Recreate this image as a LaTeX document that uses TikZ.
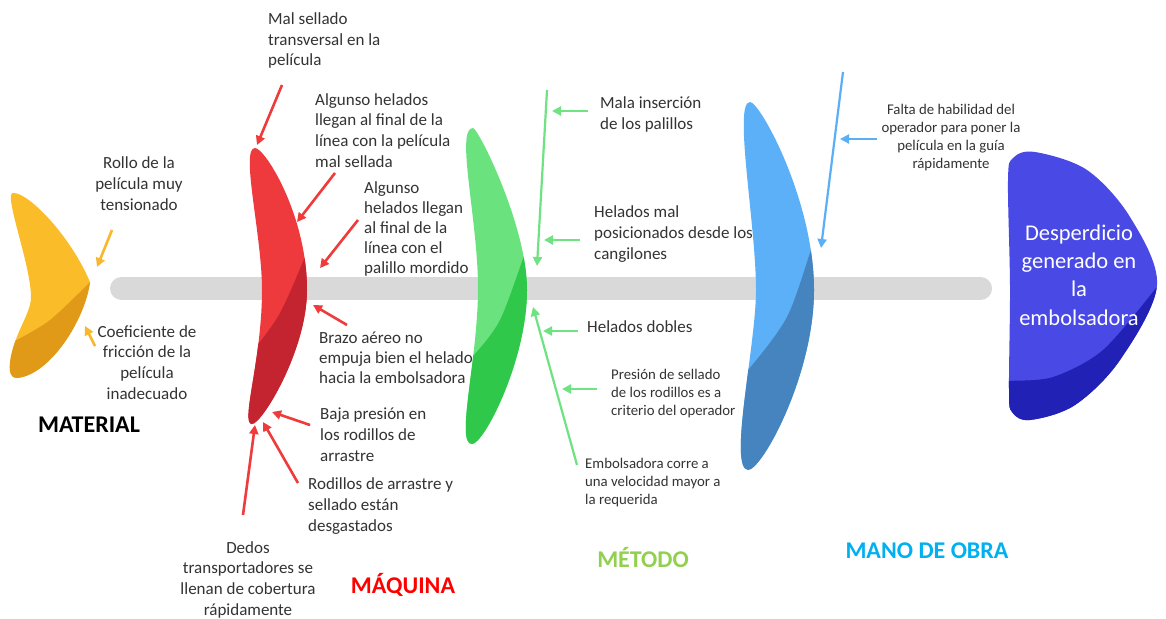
\documentclass[tikz,border=0pt]{standalone}
\usepackage{fontspec}
\setmainfont{Carlito}
\usetikzlibrary{arrows.meta}
\definecolor{txt}{HTML}{333333}
\definecolor{barc}{HTML}{D9D9D9}
\definecolor{yl}{HTML}{FBBC2A}\definecolor{yd}{HTML}{E19A17}
\definecolor{rl}{HTML}{EE3A3C}\definecolor{rd}{HTML}{C3242F}
\definecolor{gl}{HTML}{6AE37E}\definecolor{gd}{HTML}{2FC84A}
\definecolor{bl}{HTML}{5CB0F8}\definecolor{bd}{HTML}{4584BE}
\definecolor{hl}{HTML}{4949E6}\definecolor{hd}{HTML}{2121B6}
\definecolor{ra}{HTML}{EF3B3B}\definecolor{ya}{HTML}{F9B72D}
\definecolor{ga}{HTML}{6FE282}\definecolor{ba}{HTML}{5AAFF7}
\definecolor{tmet}{HTML}{92D050}\definecolor{tmano}{HTML}{00B0F0}
\begin{document}
\begin{tikzpicture}[x=1pt,y=-1pt,
  lbl/.style={text=txt, inner sep=0pt, font=\fontsize{17}{20.6}\selectfont},
  lblsm/.style={text=txt, inner sep=0pt, font=\fontsize{14.8}{18}\selectfont},
  ttl/.style={inner sep=0pt, anchor=base, font=\fontsize{24}{28}\selectfont\bfseries},
  arr/.style={line width=2.6pt, -{Triangle[length=9pt,width=9pt]}},
  arrthin/.style={line width=2.2pt, -{Triangle[length=9pt,width=9pt]}}]
\useasboundingbox (0,0) rectangle (1166,618);
\fill[white] (0,0) rectangle (1166,618);
% spine
\coordinate (sp1) at (121.5,288.5);
\coordinate (sp2) at (980.5,288.5);
\draw[barc, line width=23pt, line cap=round] (sp1) -- (sp2);
% shapes
\def\shpY{(13,193) .. controls (28,192) and (70,235) .. (90,282)
  .. controls (85,320) and (50,375) .. (17,378)
  .. controls (9,378) and (8,368) .. (12,352)
  .. controls (18,328) and (31,312) .. (31,297)
  .. controls (31,265) and (3,193) .. (13,193) -- cycle}
\def\shpR{(255,148) .. controls (265,148) and (307,215) .. (307,290)
  .. controls (307,350) and (262,424) .. (252,424)
  .. controls (240,424) and (262,360) .. (262,290)
  .. controls (262,235) and (240,148) .. (255,148) -- cycle}
\def\shpG{(473,128) .. controls (478,128) and (527,225) .. (527,290)
  .. controls (527,360) and (484,444) .. (472,444)
  .. controls (455,444) and (478,360) .. (478,288)
  .. controls (478,220) and (455,128) .. (473,128) -- cycle}
\def\shpB{(750,102) .. controls (760,102) and (814,200) .. (814,290)
  .. controls (814,375) and (762,470) .. (748,470)
  .. controls (728,468) and (756,345) .. (756,290)
  .. controls (756,225) and (733,102) .. (750,102) -- cycle}
\def\shpH{plot[smooth cycle, tension=0.55] coordinates {(1035,152) (1087,170) (1130,217) (1157,285) (1120,360) (1075,405) (1030,420) (1012,412) (1009,390) (1010,287) (1008,180) (1013,158)}}
\fill[yl] \shpY;
\begin{scope}\clip \shpY;
\fill[yd] plot[smooth] coordinates {(0,347) (13,342) (50,320) (90,282) (100,270)} -- (102,400) -- (0,400) -- cycle;
\end{scope}
\fill[rl] \shpR;
\begin{scope}\clip \shpR;
\fill[rd] plot[smooth] coordinates {(238,358) (253,350) (280,313) (305,257) (312,240)} -- (320,240) -- (320,440) -- (238,440) -- cycle;
\end{scope}
\fill[gl] \shpG;
\begin{scope}\clip \shpG;
\fill[gd] plot[smooth] coordinates {(458,364) (472,357) (500,320) (525,253) (532,235)} -- (540,235) -- (540,460) -- (458,460) -- cycle;
\end{scope}
\fill[bl] \shpB;
\begin{scope}\clip \shpB;
\fill[bd] plot[smooth] coordinates {(733,380) (748,370) (787,317) (812,247) (820,228)} -- (830,228) -- (830,480) -- (733,480) -- cycle;
\end{scope}
\fill[hl] \shpH;
\begin{scope}\clip \shpH;
\fill[hd] plot[smooth] coordinates {(995,382) (1008,381) (1053,377) (1103,350) (1157,287) (1170,270)} -- (1170,430) -- (995,430) -- cycle;
\end{scope}
% head text (anchor = baseline of last line)
\node[inner sep=0pt, anchor=base, align=center, text=white, font=\fontsize{22.5}{28.3}\selectfont] (head) at (1079,325) {Desperdicio\\generado en\\la\\embolsadora};
% titles
\node[ttl, text=black] (tmat) at (89,432) {MATERIAL};
\node[ttl, text=red] (tmaq) at (403,593) {MÁQUINA};
\node[ttl, text=tmet] (tmetn) at (643,567) {MÉTODO};
\node[ttl, text=tmano] (tman) at (927,558) {MANO DE OBRA};
% labels (anchor = baseline of last line)
\node[lbl, anchor=base, align=center] (l1) at (139,210) {Rollo de la\\película muy\\tensionado};
\node[lbl, anchor=base, align=center] (l2) at (147,399) {Coeficiente de\\fricción de la\\película\\inadecuado};
\node[lbl, anchor=base west, align=left] (l3) at (268,66) {Mal sellado\\transversal en la\\película};
\node[lbl, anchor=base west, align=left] (l4) at (315,167) {Algunso helados\\llegan al final de la\\línea con la película\\mal sellada};
\node[lbl, anchor=base west, align=left, font=\fontsize{17}{20}\selectfont] (l5) at (364,273) {Algunso\\helados llegan\\al final de la\\línea con el\\palillo mordido};
\node[lbl, anchor=base west, align=left, font=\fontsize{17}{20}\selectfont] (l6) at (319,383) {Brazo aéreo no\\empuja bien el helado\\hacia la embolsadora};
\node[lbl, anchor=base west, align=left] (l7) at (320,461) {Baja presión en\\los rodillos de\\arrastre};
\node[lbl, anchor=base west, align=left] (l8) at (308,531) {Rodillos de arrastre y\\sellado están\\desgastados};
\node[lbl, anchor=base, align=center] (l9) at (248,615) {Dedos\\transportadores se\\llenan de cobertura\\rápidamente};
\node[lbl, anchor=base west, align=left] (l10) at (600,129) {Mala inserción\\de los palillos};
\node[lbl, anchor=base west, align=left] (l11) at (594,259) {Helados mal\\posicionados desde los\\cangilones};
\node[lbl, anchor=base west, align=left] (l12) at (587,332) {Helados dobles};
\node[lblsm, anchor=base west, align=left] (l13) at (611,415.5) {Presión de sellado\\de los rodillos es a\\criterio del operador};
\node[lblsm, anchor=base west, align=left] (l14) at (585,504.5) {Embolsadora corre a\\una velocidad mayor a\\la requerida};
\node[lblsm, anchor=base, align=center] (l15) at (951,168.5) {Falta de habilidad del\\operador para poner la\\película en la guía\\rápidamente};
% arrow end points
\coordinate (y1t) at (112,230); \coordinate (y1h) at (97,267);
\coordinate (y2t) at (95,346);  \coordinate (y2h) at (85,326);
\coordinate (r1t) at (282,85);  \coordinate (r1h) at (257,145);
\coordinate (r2t) at (335,173); \coordinate (r2h) at (297,222);
\coordinate (r3t) at (358,220); \coordinate (r3h) at (320,268);
\coordinate (r4t) at (347,325); \coordinate (r4h) at (313,305);
\coordinate (r5t) at (310,425); \coordinate (r5h) at (272,412);
\coordinate (r6t) at (298,483); \coordinate (r6h) at (263,422);
\coordinate (r7t) at (243,515); \coordinate (r7h) at (255,425);
\coordinate (g1t) at (547,90);  \coordinate (g1h) at (537,266);
\coordinate (g2t) at (588,111); \coordinate (g2h) at (552,111);
\coordinate (g3t) at (580,240); \coordinate (g3h) at (544,240);
\coordinate (g4t) at (577,465); \coordinate (g4h) at (533,307);
\coordinate (g5t) at (578,331); \coordinate (g5h) at (543,331);
\coordinate (g6t) at (597,389); \coordinate (g6h) at (562,389);
\coordinate (b1t) at (843,72);  \coordinate (b1h) at (821,248);
\coordinate (b2t) at (877,139); \coordinate (b2h) at (840,139);
% arrows
\draw[arr, ya] (y1t) -- (y1h);
\draw[arr, ya] (y2t) -- (y2h);
\foreach \a in {r1,r2,r3,r4,r5,r6,r7} \draw[arr, ra] (\a t) -- (\a h);
\draw[arrthin, ga] (g1t) -- (g1h);
\draw[arrthin, ga] (g4t) -- (g4h);
\foreach \a in {g2,g3,g5,g6} \draw[arr, ga] (\a t) -- (\a h);
\draw[arrthin, ba] (b1t) -- (b1h);
\draw[arr, ba] (b2t) -- (b2h);
\end{tikzpicture}
\end{document}
